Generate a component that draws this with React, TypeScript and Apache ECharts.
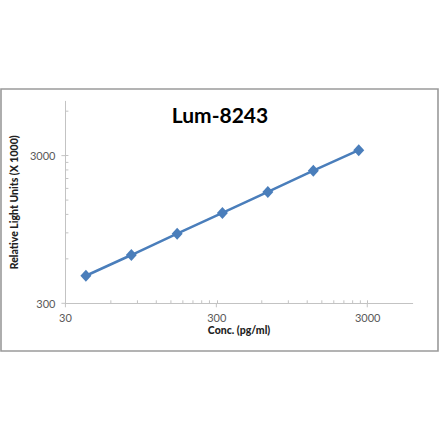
import React, { useEffect, useRef } from "react";
import * as echarts from "echarts";

const chartTitle = "Lum-8243";
const xAxisName = "Conc. (pg/ml)";
const yAxisName = "Relative Light Units (X 1000)";

// Concentration (pg/ml)
const concentrations = [41, 82, 165, 329, 658, 1317, 2634];
// Relative light units (x 1000)
const rlu = [461, 637, 889, 1227, 1703, 2374, 3265];

const xMin = 30;
const xMax = 6000;
const yMin = 300;
const yMax = 7000;

const xMajorTicks = [30, 300, 3000];
const yMajorTicks = [300, 3000];
const xMinorTicks = [60, 90, 120, 150, 180, 210, 240, 270, 600, 900, 1200, 1500, 1800, 2100, 2400, 2700];
const yMinorTicks = [600, 900, 1200, 1500, 1800, 2100, 2400, 2700, 6000];

const FONT = "Lato, 'Open Sans', sans-serif";
const AXIS_COLOR = "#c3c3c3";

const fmt = (v: number) => String(Number(v.toPrecision(2)));

export default function App() {
  const ref = useRef<HTMLDivElement>(null);

  useEffect(() => {
    if (!ref.current) return;
    const chart = echarts.init(ref.current, undefined, { renderer: "svg" });

    const tickLine = (x1: number, y1: number, x2: number, y2: number) => ({
      type: "line",
      shape: { x1, y1, x2, y2 },
      style: { stroke: AXIS_COLOR, lineWidth: 1 },
    });

    chart.setOption({
      animation: false,
      backgroundColor: "#ffffff",
      title: {
        text: chartTitle,
        left: "center",
        top: 99,
        textStyle: { fontFamily: FONT, fontSize: 21, fontWeight: "bold", color: "#000" },
      },
      graphic: [
        {
          type: "rect",
          shape: { x: 1, y: 89, width: 437, height: 262 },
          style: { fill: "none", stroke: "#9a9a9a", lineWidth: 1.6 },
          silent: true,
        },
      ],
      grid: { left: 62.5, right: 27.3, top: 101.3, bottom: 137.7 },
      xAxis: {
        type: "log",
        logBase: 10,
        min: xMin,
        max: xMax,
        interval: 1,
        name: xAxisName,
        nameLocation: "middle",
        nameGap: 21,
        nameTextStyle: { fontFamily: FONT, fontSize: 10.5, fontWeight: 900, color: "#222" },
        axisLine: { show: true, lineStyle: { color: AXIS_COLOR, width: 1 } },
        axisTick: { show: true, inside: true, length: 3, lineStyle: { color: AXIS_COLOR } },
        axisLabel: {
          showMaxLabel: false,
          margin: 9,
          fontFamily: FONT,
          fontSize: 11,
          color: "#595959",
          formatter: fmt,
        },
        splitLine: { show: false },
      },
      yAxis: {
        type: "log",
        logBase: 10,
        min: yMin,
        max: yMax,
        interval: 1,
        name: yAxisName,
        nameLocation: "middle",
        nameGap: 40,
        nameRotate: 90,
        nameTextStyle: { fontFamily: FONT, fontSize: 10.5, fontWeight: 900, color: "#222" },
        axisLine: { show: true, lineStyle: { color: AXIS_COLOR, width: 1 } },
        axisTick: { show: true, inside: true, length: 3, lineStyle: { color: AXIS_COLOR } },
        axisLabel: {
          showMaxLabel: false,
          margin: 10,
          fontFamily: FONT,
          fontSize: 11,
          color: "#595959",
          formatter: fmt,
        },
        splitLine: { show: false },
      },
      series: [
        {
          type: "custom",
          silent: true,
          data: xMinorTicks.map((v) => [v, yMin]),
          renderItem: (params: any, api: any) => {
            const p = api.coord([api.value(0), api.value(1)]);
            return tickLine(p[0], p[1], p[0], p[1] - 3);
          },
        },
        {
          type: "custom",
          silent: true,
          data: yMinorTicks.map((v) => [xMin, v]),
          renderItem: (params: any, api: any) => {
            const p = api.coord([api.value(0), api.value(1)]);
            return tickLine(p[0], p[1], p[0] + 3, p[1]);
          },
        },
        {
          type: "custom",
          silent: true,
          data: xMajorTicks.map((v) => [v, yMin]),
          renderItem: (params: any, api: any) => {
            const p = api.coord([api.value(0), api.value(1)]);
            return tickLine(p[0], p[1], p[0], p[1] + 4);
          },
        },
        {
          type: "custom",
          silent: true,
          data: yMajorTicks.map((v) => [xMin, v]),
          renderItem: (params: any, api: any) => {
            const p = api.coord([api.value(0), api.value(1)]);
            return tickLine(p[0] - 4, p[1], p[0], p[1]);
          },
        },
        {
          type: "line",
          data: concentrations.map((c, i) => [c, rlu[i]]),
          symbol: "diamond",
          symbolSize: [11, 12],
          lineStyle: { color: "#4A7EBB", width: 2.5 },
          itemStyle: { color: "#4A7EBB" },
          z: 5,
        },
      ],
    });

    return () => chart.dispose();
  }, []);

  return (
    <div
      ref={ref}
      style={{ position: "absolute", left: 0, top: 0, width: 440, height: 441, background: "#fff" }}
    />
  );
}
